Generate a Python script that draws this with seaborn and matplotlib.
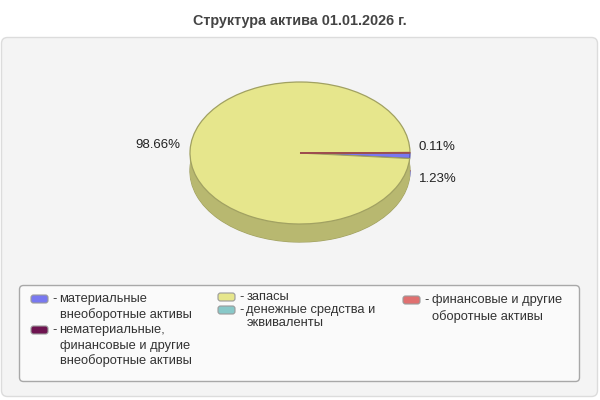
import textwrap
import numpy as np
import matplotlib.pyplot as plt
import matplotlib.colors as mcolors
from matplotlib.patches import FancyBboxPatch
import seaborn as sns

title = "Структура актива 01.01.2026 г."
categories = [
    "материальные внеоборотные активы",
    "нематериальные, финансовые и другие внеоборотные активы",
    "запасы",
    "денежные средства и эквиваленты",
    "финансовые и другие оборотные активы",
]
shares = [1.23, 0.0, 98.66, 0.0, 0.11]
colors = ["#7878F0", "#6E1450", "#E6E68C", "#88C8C8", "#E07070"]

sns.set_style("white")
plt.rcParams["font.family"] = ["Liberation Sans", "DejaVu Sans"]

fig = plt.figure(figsize=(6, 4), dpi=100)
fig.patch.set_facecolor("white")

# background layer in pixel units
bg = fig.add_axes([0, 0, 1, 1])
bg.set_xlim(0, 600)
bg.set_ylim(400, 0)
bg.axis("off")
bg.add_patch(FancyBboxPatch((1.5, 37.5), 596, 359, boxstyle="round,pad=0,rounding_size=6",
                            fc="#F4F4F4", ec="#DCDCDC", lw=1))
bg.text(300, 21, title, ha="center", va="center", fontsize=10.4,
        fontweight="bold", color="#444444")

# 3d-like pie
ax = fig.add_axes([100 / 600, 1 - 260 / 400, 400 / 600, 200 / 400])
ax.set_zorder(2)
ax.patch.set_alpha(0)

keep = [i for i, v in enumerate(shares) if v > 0]
vals = [shares[i] for i in keep]
rgb = [np.array(mcolors.to_rgb(colors[i])) for i in keep]
top_cols = [colors[i] for i in keep]
side_cols = [tuple(c * 0.8) for c in rgb]
edge_cols = [tuple(c * 0.7) for c in rgb]

depth = 0.2535
pie_kw = dict(startangle=0, counterclock=False)

bottom, _ = ax.pie(vals, colors=side_cols, center=(0, -depth),
                   wedgeprops=dict(linewidth=0.9), **pie_kw)
for w, ec in zip(bottom, edge_cols):
    w.set_edgecolor(ec)
for d in np.linspace(depth, 0.005, 30):
    ax.pie(vals, colors=side_cols, center=(0, -d), wedgeprops=dict(linewidth=0), **pie_kw)
top, _ = ax.pie(vals, colors=top_cols, wedgeprops=dict(linewidth=0.9), **pie_kw)
for w, ec in zip(top, edge_cols):
    w.set_edgecolor(ec)

ax.set_aspect("auto")
ax.set_xlim(-200 / 110, 200 / 110)
ax.set_ylim(-107 / 71, 93 / 71)
ax.axis("off")

# percent labels
right = []
for w, v in zip(top, vals):
    mid = np.deg2rad((w.theta1 + w.theta2) / 2)
    y = np.sin(mid) + 0.08
    if np.cos(mid) < 0:
        ax.text(-1.09, y, f"{v:.2f}%", ha="right", va="center", fontsize=9.5, color="#222222")
    else:
        right.append((y, v))
right.sort(reverse=True)
prev = None
for y, v in right:
    if prev is not None and prev - y < 0.45:
        y = prev - 0.45
    ax.text(1.08, y, f"{v:.2f}%", ha="left", va="center", fontsize=9.5, color="#222222")
    prev = y

# legend
bg.add_patch(FancyBboxPatch((19.5, 285.5), 560, 96, boxstyle="round,pad=0,rounding_size=4",
                            fc="#FAFAFA", ec="#A8A8A8", lw=1))
col_of = [0, 0, 1, 1, 2]
col_x = [31, 218, 403]
col_y = [299, 297, 300]
col_step = [15.5, 13, 16.5]
for i, name in enumerate(categories):
    c = col_of[i]
    x, y, step = col_x[c], col_y[c], col_step[c]
    lines = textwrap.wrap(name, 19)
    bg.add_patch(FancyBboxPatch((x, y - 4), 17, 8, boxstyle="round,pad=0,rounding_size=2.5",
                                fc=colors[i], ec="#9A9A9A", lw=0.8))
    bg.text(x + 21, y, "-", ha="left", va="center", fontsize=9.3, color="#333333")
    for k, line in enumerate(lines):
        bg.text(x + 28.5, y + k * step, line, ha="left", va="center", fontsize=9.3, color="#333333")
    col_y[c] = y + len(lines) * step

fig.savefig("out.png", dpi=100)
